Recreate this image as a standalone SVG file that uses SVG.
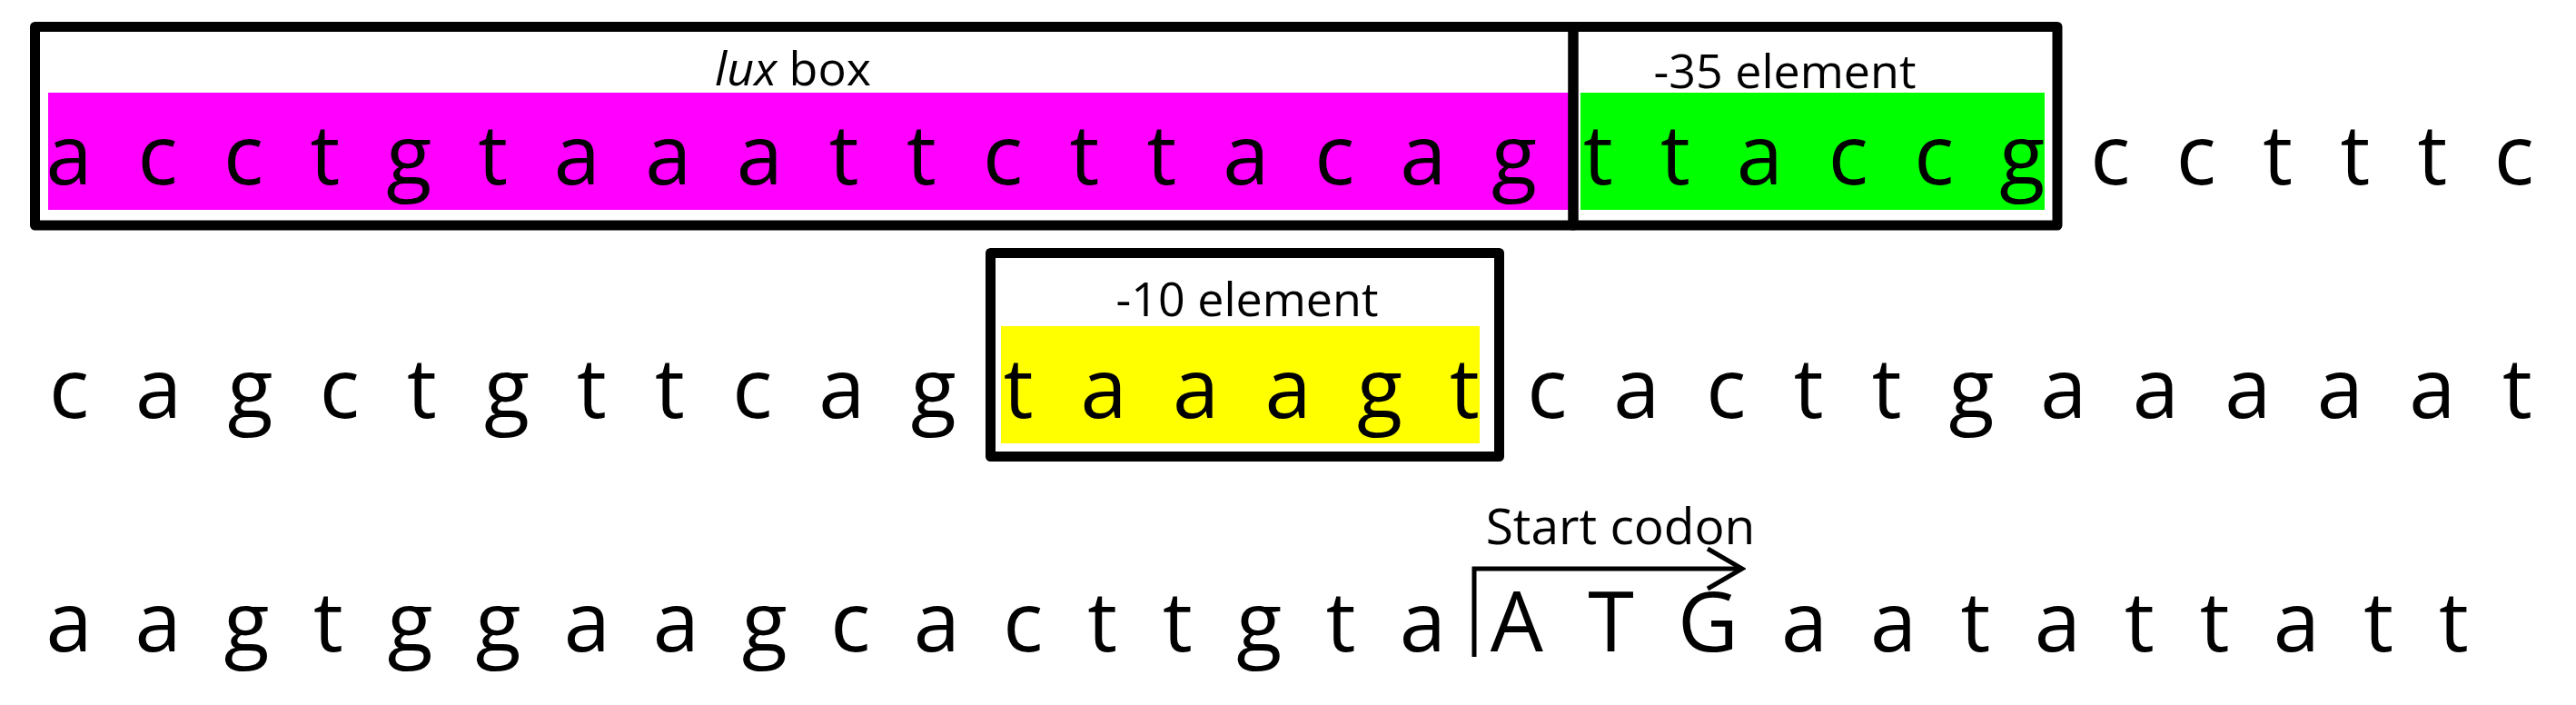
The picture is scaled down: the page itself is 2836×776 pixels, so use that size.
<svg xmlns="http://www.w3.org/2000/svg" width="2836" height="776" viewBox="0 0 2836 776">
  <style>
    .seq { font-family: "Open Sans", "Noto Sans", "Liberation Sans", sans-serif; font-size: 92px; fill: #000; text-anchor: middle; }
    .lbl { font-family: "Open Sans", "Noto Sans", "Liberation Sans", sans-serif; font-size: 52px; fill: #000; text-anchor: middle; }
    .box { fill: none; stroke: #000; stroke-width: 11; stroke-linejoin: round; }
    .conn { fill: none; stroke: #000; stroke-width: 5; }
  </style>
  <defs>
    <marker id="chevron" markerUnits="userSpaceOnUse" viewBox="0 0 44 50" refX="40" refY="25" markerWidth="44" markerHeight="50" orient="auto">
      <path d="M2,3 L40,25 L2,47" fill="none" stroke="#000" stroke-width="5"/>
    </marker>
  </defs>
  <rect width="2836" height="776" fill="#fff"/>

  <g id="lux-box">
    <rect x="53" y="102" width="1674" height="129" fill="#FF00FF"/>
    <rect class="box" x="38.5" y="29.5" width="1693.5" height="218.5"/>
    <text class="lbl" x="873" y="94"><tspan font-style="italic">lux</tspan> box</text>
    <text class="seq" x="76 173.5 268 357.8 450.2 542.6 635.4 735.9 836.4 929.2 1014.3 1104.1 1193.9 1279 1371.8 1469.3 1566.8 1666.9" y="203">acctgtaaattcttacag</text>
  </g>

  <g id="minus35-box">
    <rect x="1740" y="102" width="511" height="129" fill="#00FF00"/>
    <rect class="box" x="1732" y="29.5" width="533" height="218.5"/>
    <text class="lbl" x="1965" y="97">-35 element</text>
    <text class="seq" x="1759.3 1844.4 1937.2 2034.7 2129.2 2226.3" y="203">ttaccg</text>
  </g>

  <g id="row1-tail">
    <text class="seq" x="2323.4 2417.9 2507.7 2592.8 2677.9 2767.7" y="203">cctttc</text>
  </g>

  <g id="row2-head">
    <text class="seq" x="76 174.5 275.6 373.7 464.5 557.9 651.3 737.4 828.2 926.7 1027.8" y="460">cagctgttcag</text>
  </g>

  <g id="minus10-box">
    <rect x="1102" y="359" width="527" height="129" fill="#FFFF00"/>
    <rect class="box" x="1090.5" y="278.5" width="560" height="224"/>
    <text class="lbl" x="1373" y="348">-10 element</text>
    <text class="seq" x="1121.2 1215 1316.5 1418 1519.1 1612.5" y="460">taaagt</text>
  </g>

  <g id="row2-tail">
    <text class="seq" x="1703.3 1801.8 1900.3 1991.1 2077.2 2170.6 2271.7 2373.2 2474.7 2576.2 2677.7 2771.5" y="460">cacttgaaaaat</text>
  </g>

  <g id="row3-head">
    <text class="seq" x="76 174 271.6 361.5 451.4 548.6 646.2 744.2 841.8 936.4 1031.4 1126.4 1213.7 1296.3 1386.2 1476.1 1566.4" y="717">aagtggaagcacttgta</text>
  </g>

  <g id="start-codon">
    <text class="lbl" x="1784" y="599" style="font-size:55px">Start codon</text>
    <text class="seq" x="1669.8 1773.7 1880.4" y="717">ATG</text>
  </g>

  <g id="row3-tail">
    <text class="seq" x="1986.6 2084.6 2174.9 2265.2 2355.5 2438.1 2528.4 2618.7 2701.3" y="717">aatattatt</text>
  </g>

  <g id="connectors">
    <path class="conn" d="M1623,723 V626 H1918" marker-end="url(#chevron)"/>
  </g>
</svg>
